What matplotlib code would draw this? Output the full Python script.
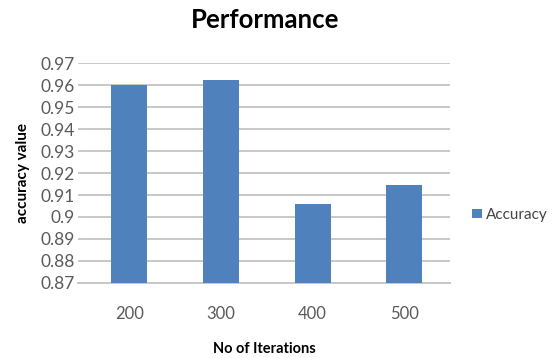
import matplotlib
matplotlib.use("Agg")
import matplotlib.pyplot as plt
from matplotlib.ticker import FuncFormatter
import numpy as np

iterations = ["200", "300", "400", "500"]
accuracy = [0.960, 0.9625, 0.906, 0.9145]
y_ticks = [0.87, 0.88, 0.89, 0.90, 0.91, 0.92, 0.93, 0.94, 0.95, 0.96, 0.97]

plt.rcParams["font.family"] = ["Lato", "DejaVu Sans"]

fig = plt.figure(figsize=(5.53, 3.58), dpi=100)
ax = fig.add_axes([0.141, 0.210, 0.673, 0.613])

x = np.arange(len(iterations))
ax.bar(x, [a - 0.87 for a in accuracy], bottom=0.87, width=0.39,
       color="#4F81BD", label="Accuracy", zorder=3)

ax.set_ylim(0.87, 0.97)
ax.set_xlim(-0.56, 3.5)
ax.set_yticks(y_ticks)
ax.yaxis.set_major_formatter(FuncFormatter(lambda v, p: f"{v:g}"))
ax.set_xticks(x)
ax.set_xticklabels(iterations)

ax.grid(axis="y", color="#C8C8C8", linewidth=1.4, zorder=0)
for side in ["top", "right", "left"]:
    ax.spines[side].set_visible(False)
ax.spines["bottom"].set_color("#C8C8C8")
ax.spines["bottom"].set_linewidth(1.4)
ax.tick_params(axis="y", length=0, pad=2, labelsize=12.5, labelcolor="#5A5A5A")
ax.tick_params(axis="x", length=0, pad=17, labelsize=12, labelcolor="#5A5A5A")

ax.set_ylabel("accuracy value", fontsize=11, fontweight="bold", labelpad=8)
ax.set_xlabel("No of Iterations", fontsize=10.5, fontweight="bold", labelpad=14)
fig.text(0.48, 0.945, "Performance", ha="center", va="center",
         fontsize=18.5, fontweight="bold")

ax.legend(loc="center left", bbox_to_anchor=(1.06, 0.31), frameon=False,
          fontsize=11, handlelength=0.6, handleheight=0.6, handletextpad=0.3,
          labelcolor="#444444", borderaxespad=0, borderpad=0)

fig.savefig("out.png", dpi=100)
